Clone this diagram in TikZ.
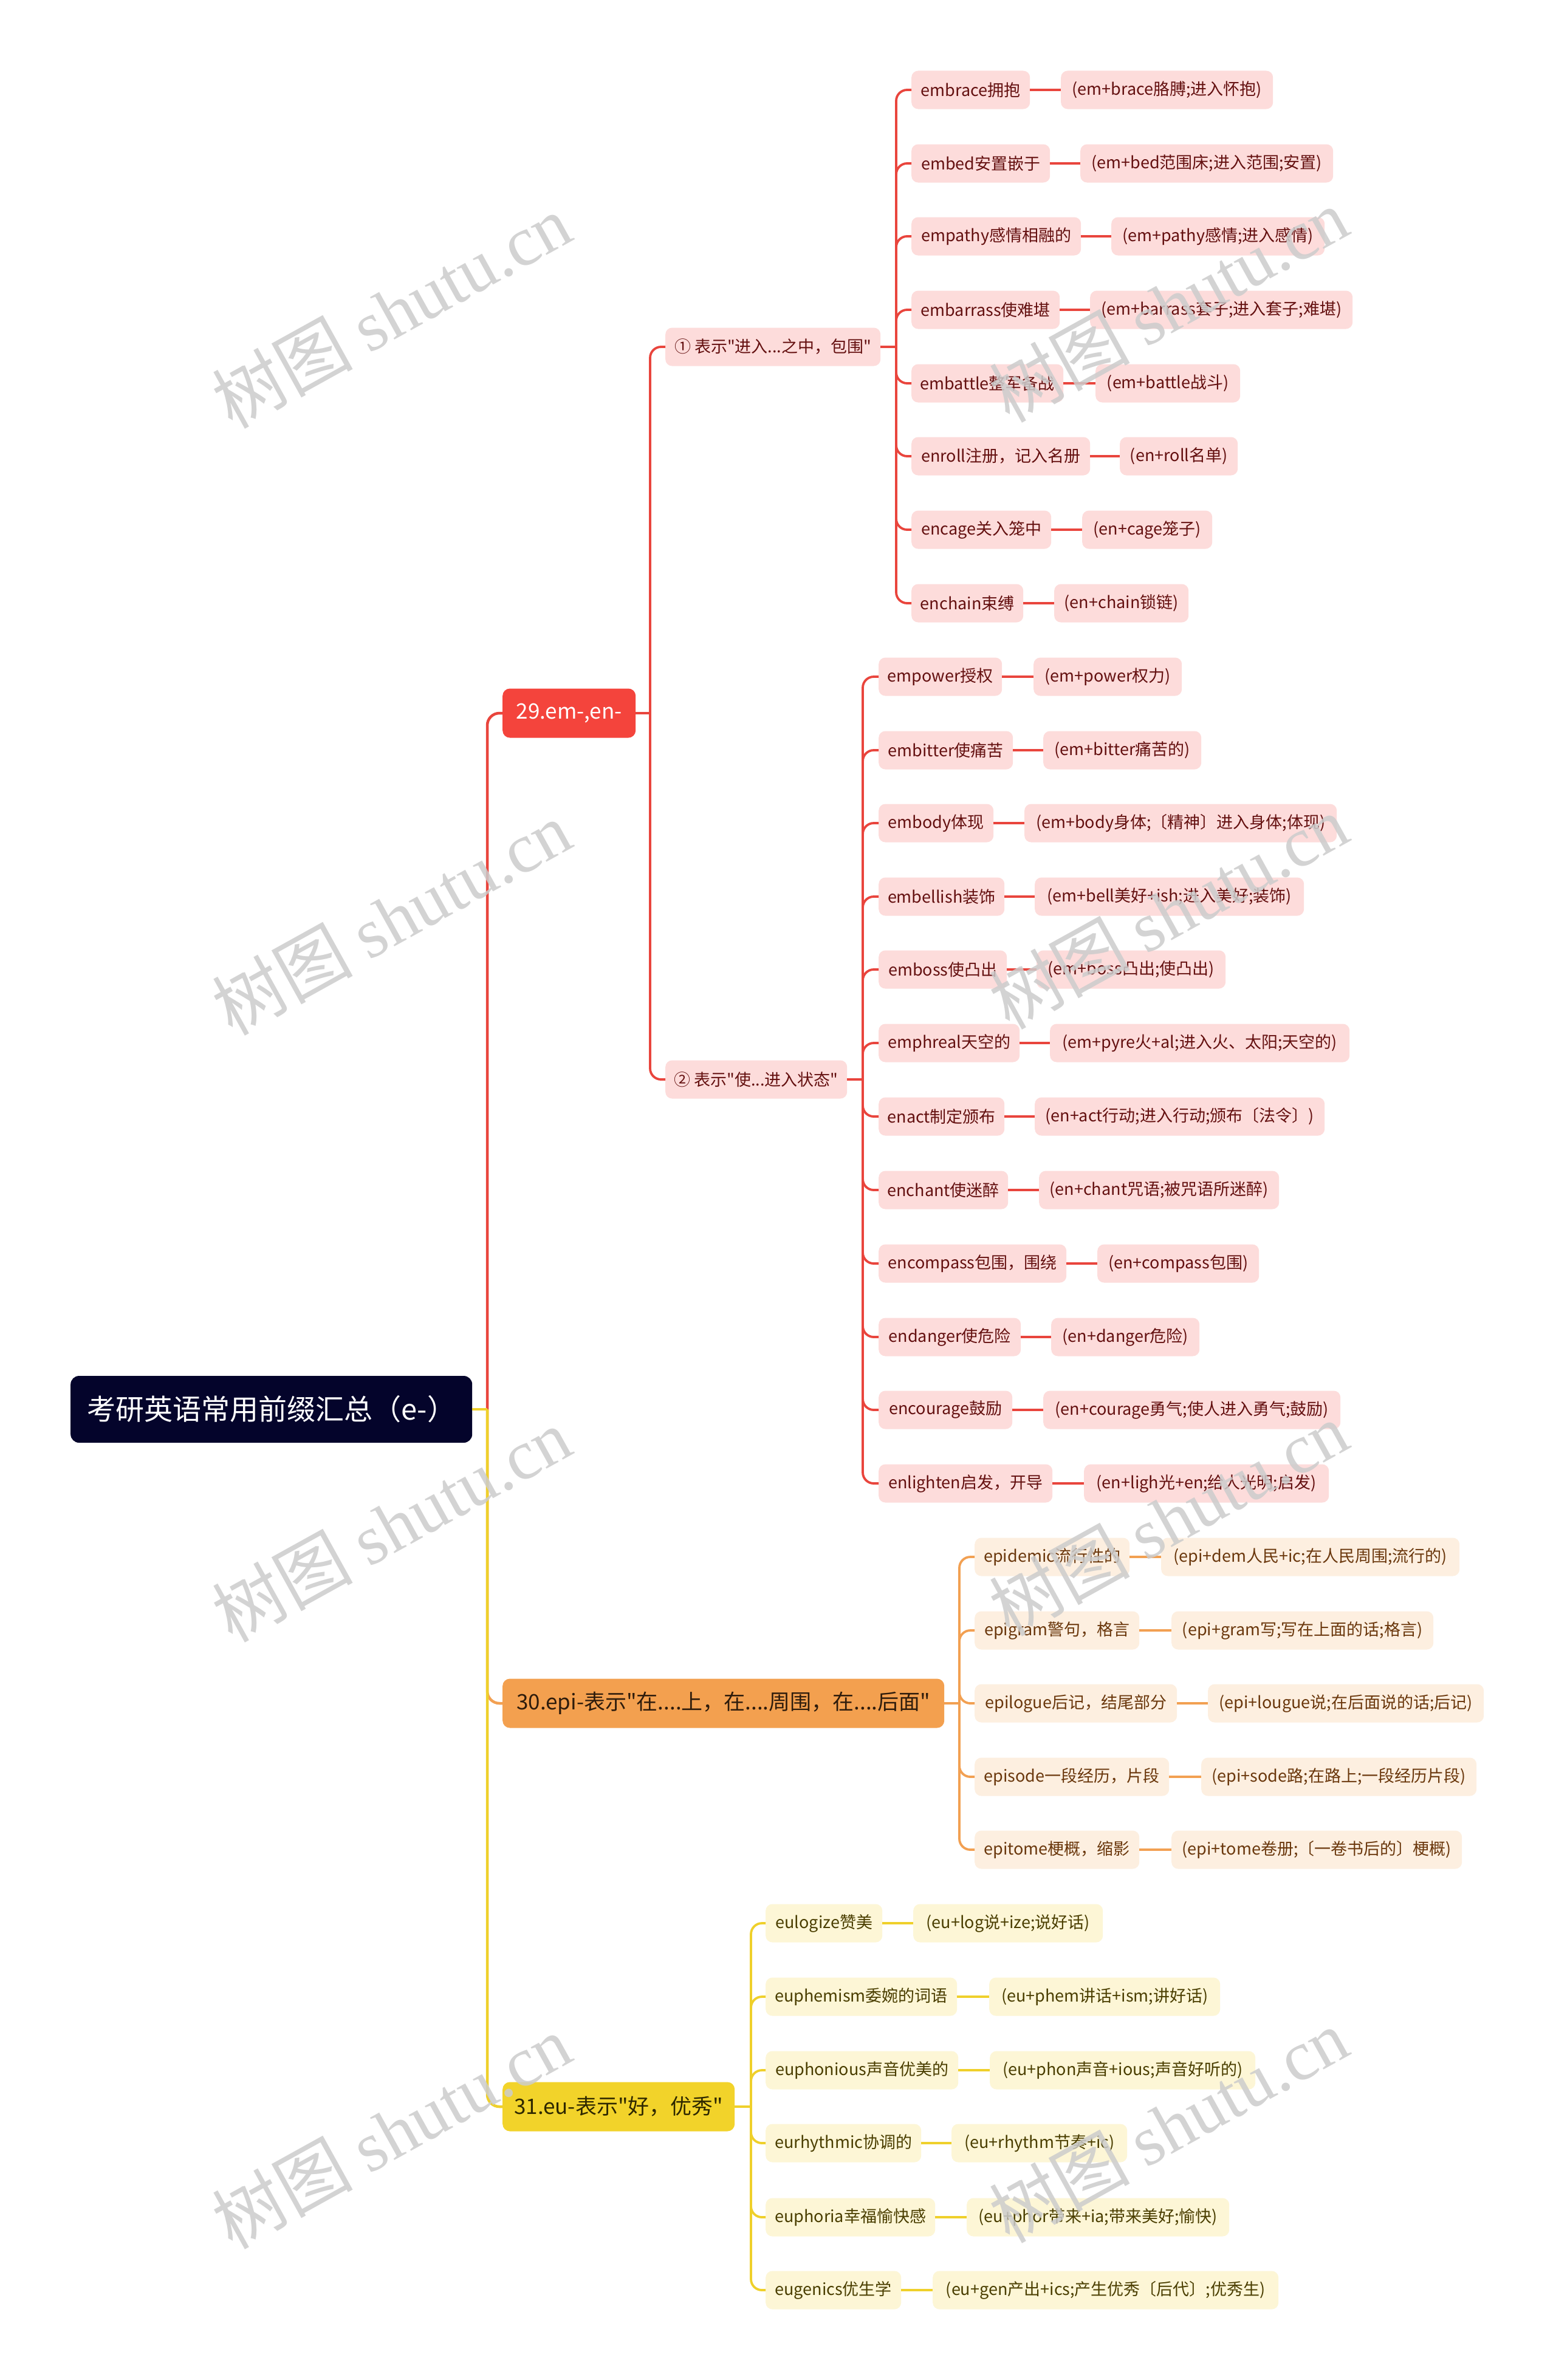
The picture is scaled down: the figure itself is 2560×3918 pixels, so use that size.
\documentclass[tikz,border=0pt]{standalone}
\usepackage{fontspec}
\setmainfont{Noto Sans CJK SC}[Ligatures=TeXOff]
\newfontfamily\wmlatin{Liberation Serif}[Ligatures=TeXOff]
\definecolor{rootc}{HTML}{04042B}
\definecolor{redc}{HTML}{F4443C}
\definecolor{redline}{HTML}{E9453D}
\definecolor{redfill}{HTML}{FDDCDB}
\definecolor{redtext}{HTML}{641010}
\definecolor{orc}{HTML}{F3A04F}
\definecolor{orline}{HTML}{F2A052}
\definecolor{orfill}{HTML}{FDEFE0}
\definecolor{ortext}{HTML}{6A370C}
\definecolor{ortextd}{HTML}{2E1C0C}
\definecolor{yec}{HTML}{F2D32A}
\definecolor{yeline}{HTML}{EFD02B}
\definecolor{yefill}{HTML}{FDF6D6}
\definecolor{yetext}{HTML}{4A3E00}
\definecolor{yetextd}{HTML}{2E2800}
\colorlet{lfill}{redfill}
\colorlet{ltext}{redtext}
\colorlet{lline}{redline}
\newcommand\curj{J1}
\newcommand\lpair[8]{%
  \node[leafbox, minimum width={#4-#3}] (#1a) at (#3,#2) {#5};
  \node[leafbox, minimum width={#7-#6}] (#1b) at (#6,#2) {#8};
  \draw[leafline] (#1a.east) -- (#1b.west);
  \draw[branchline] (\curj) |- (#1a.west);
}
\tikzset{
  rootbox/.style={anchor=west, fill=rootc, text=white, rounded corners=14pt,
    minimum width=661pt, minimum height=110pt, inner sep=0pt,
    font=\fontsize{47}{54}\selectfont},
  l1box/.style={anchor=west, rounded corners=12pt, minimum height=81pt,
    inner sep=0pt, font=\fontsize{35}{41}\selectfont},
  leafbox/.style={anchor=west, fill=lfill, text=ltext, rounded corners=11pt,
    minimum height=63pt, inner sep=0pt, font=\fontsize{27}{32}\selectfont},
  trunk/.style={line width=4.5pt, rounded corners=20pt},
  branchline/.style={draw=lline, line width=3.8pt, rounded corners=18pt},
  leafline/.style={draw=lline, line width=4.5pt},
  wm/.style={rotate=29, text=black!20, text opacity=0.85,
    font=\fontsize{116}{124}\selectfont, inner sep=0pt}
}
\begin{document}
\begin{tikzpicture}[x=1pt,y=-1pt]
\useasboundingbox[fill=white] (0,0) rectangle (2560,3918);

% root and main branches
\node[rootbox] (root) at (116,2320) {考研英语常用前缀汇总（e-）};
\coordinate (J0) at (802,2320);
\node[l1box, fill=redc, text=white, minimum width=219pt] (n29) at (827,1174) {29.em-,en-};
\node[l1box, fill=orc, text=ortextd, minimum width=727pt] (n30) at (827,2804) {30.epi-表示"在....上，在....周围，在....后面"};
\node[l1box, fill=yec, text=yetextd, minimum width=382pt] (n31) at (827,3468) {31.eu-表示"好，优秀"};
\draw[trunk, draw=orline] (J0) |- (n30.west);
\draw[trunk, draw=redline] (J0) |- (n29.west);
\draw[trunk, draw=yeline] (J0) |- (n31.west);
\draw[trunk, draw=yeline] (root.east) -- (J0);

% ===== 29 =====
\colorlet{lfill}{redfill}\colorlet{ltext}{redtext}\colorlet{lline}{redline}
\coordinate (J29) at (1070,1174);
\node[leafbox, minimum width=354pt] (s1) at (1095,571) {① 表示"进入...之中，包围"};
\node[leafbox, minimum width=299pt] (s2) at (1095,1777) {② 表示"使...进入状态"};
\draw[branchline] (n29.east) -- (J29);
\draw[branchline] (J29) |- (s1.west);
\draw[branchline] (J29) |- (s2.west);

\coordinate (J1) at (1475,571);
\draw[branchline] (s1.east) -- (J1);
\renewcommand\curj{J1}
\lpair{a1}{148}{1500}{1695}{embrace拥抱}{1746}{2095}{(em+brace胳膊;进入怀抱)}
\lpair{a2}{269}{1500}{1728}{embed安置嵌于}{1778}{2194}{(em+bed范围床;进入范围;安置)}
\lpair{a3}{389}{1500}{1779}{empathy感情相融的}{1829}{2180}{(em+pathy感情;进入感情)}
\lpair{a4}{510}{1500}{1744}{embarrass使难堪}{1794}{2226}{(em+barrass套子;进入套子;难堪)}
\lpair{a5}{631}{1500}{1750}{embattle整军备战}{1803}{2041}{(em+battle战斗)}
\lpair{a6}{751}{1500}{1794}{enroll注册，记入名册}{1843}{2037}{(en+roll名单)}
\lpair{a7}{872}{1500}{1730}{encage关入笼中}{1781}{1995}{(en+cage笼子)}
\lpair{a8}{993}{1500}{1684}{enchain束缚}{1735}{1956}{(en+chain锁链)}

\coordinate (J2) at (1420,1777);
\draw[branchline] (s2.east) -- (J2);
\renewcommand\curj{J2}
\lpair{b1}{1114}{1446}{1649}{empower授权}{1701}{1945}{(em+power权力)}
\lpair{b2}{1235}{1446}{1667}{embitter使痛苦}{1717}{1977}{(em+bitter痛苦的)}
\lpair{b3}{1355}{1446}{1635}{embody体现}{1686}{2200}{(em+body身体;〔精神〕进入身体;体现)}
\lpair{b4}{1476}{1446}{1653}{embellish装饰}{1703}{2146}{(em+bell美好+ish;进入美好;装饰)}
\lpair{b5}{1596}{1446}{1657}{emboss使凸出}{1706}{2017}{(em+boss凸出;使凸出)}
\lpair{b6}{1717}{1446}{1678}{emphreal天空的}{1728}{2221}{(em+pyre火+al;进入火、太阳;天空的)}
\lpair{b7}{1838}{1446}{1653}{enact制定颁布}{1703}{2180}{(en+act行动;进入行动;颁布〔法令〕)}
\lpair{b8}{1959}{1446}{1659}{enchant使迷醉}{1710}{2105}{(en+chant咒语;被咒语所迷醉)}
\lpair{b9}{2080}{1446}{1755}{encompass包围，围绕}{1806}{2072}{(en+compass包围)}
\lpair{b10}{2201}{1446}{1680}{endanger使危险}{1730}{1974}{(en+danger危险)}
\lpair{b11}{2321}{1446}{1666}{encourage鼓励}{1717}{2206}{(en+courage勇气;使人进入勇气;鼓励)}
\lpair{b12}{2442}{1446}{1732}{enlighten启发，开导}{1784}{2187}{(en+ligh光+en;给人光明;启发)}

% ===== 30 =====
\colorlet{lfill}{orfill}\colorlet{ltext}{ortext}\colorlet{lline}{orline}
\coordinate (J30) at (1579,2804);
\draw[branchline] (n30.east) -- (J30);
\renewcommand\curj{J30}
\lpair{c1}{2563}{1604}{1859}{epidemic流行性的}{1911}{2402}{(epi+dem人民+ic;在人民周围;流行的)}
\lpair{c2}{2684}{1604}{1875}{epigram警句，格言}{1928}{2359}{(epi+gram写;写在上面的话;格言)}
\lpair{c3}{2804}{1604}{1937}{epilogue后记，结尾部分}{1988}{2442}{(epi+lougue说;在后面说的话;后记)}
\lpair{c4}{2925}{1604}{1924}{episode一段经历，片段}{1977}{2430}{(epi+sode路;在路上;一段经历片段)}
\lpair{c5}{3045}{1604}{1875}{epitome梗概，缩影}{1928}{2406}{(epi+tome卷册;〔一卷书后的〕梗概)}

% ===== 31 =====
\colorlet{lfill}{yefill}\colorlet{ltext}{yetext}\colorlet{lline}{yeline}
\coordinate (J31) at (1236,3468);
\draw[branchline] (n31.east) -- (J31);
\renewcommand\curj{J31}
\lpair{d1}{3166}{1260}{1452}{eulogize赞美}{1503}{1815}{(eu+log说+ize;说好话)}
\lpair{d2}{3287}{1260}{1575}{euphemism委婉的词语}{1628}{2008}{(eu+phem讲话+ism;讲好话)}
\lpair{d3}{3408}{1260}{1577}{euphonious声音优美的}{1629}{2066}{(eu+phon声音+ious;声音好听的)}
\lpair{d4}{3528}{1260}{1516}{eurhythmic协调的}{1566}{1855}{(eu+rhythm节奏+ic)}
\lpair{d5}{3650}{1260}{1539}{euphoria幸福愉快感}{1591}{2023}{(eu+phor带来+ia;带来美好;愉快)}
\lpair{d6}{3770}{1260}{1483}{eugenics优生学}{1535}{2104}{(eu+gen产出+ics;产生优秀〔后代〕;优秀生)}

% watermark
\foreach \yy in {512,1511,2510,3509} {
  \node[wm] (wmL\yy) at (644,\yy) {树图 {\wmlatin shutu.cn}};
  \node[wm] (wmR\yy) at (1923,\yy-10) {树图 {\wmlatin shutu.cn}};
}
\end{tikzpicture}
\end{document}
